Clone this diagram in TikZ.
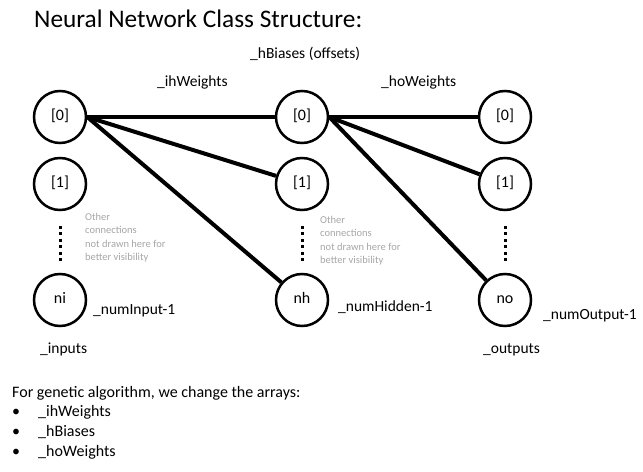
\documentclass[tikz,border=0pt]{standalone}
\usepackage{fontspec}
\setmainfont{Carlito}
\begin{document}
\begin{tikzpicture}[x=1bp,y=-1bp,
  neuron/.style={circle,draw,line width=2.5bp,minimum size=52bp,inner sep=0pt,text height=10.5bp,text depth=3bp,font=\fontsize{16bp}{19bp}\selectfont},
  conn/.style={line width=4bp},
  dotline/.style={line width=3bp,dash pattern=on 3bp off 3.5bp},
  lbl/.style={anchor=base west,inner sep=0pt,font=\fontsize{15.5bp}{18bp}\selectfont},
  txt/.style={anchor=base west,inner sep=0pt,font=\fontsize{16bp}{19bp}\selectfont},
  note/.style={anchor=north west,inner sep=0pt,align=left,text=black!35,font=\fontsize{10.5bp}{13.3bp}\selectfont}
]
\useasboundingbox (0,0) rectangle (643,472);
% neurons
\node[neuron] (i0) at (60,117) {[0]};
\node[neuron] (i1) at (60,184) {[1]};
\node[neuron] (in) at (60,300) {ni};
\node[neuron] (h0) at (302,117) {[0]};
\node[neuron] (h1) at (302,184) {[1]};
\node[neuron] (hn) at (302,300) {nh};
\node[neuron] (o0) at (505,117) {[0]};
\node[neuron] (o1) at (505,184) {[1]};
\node[neuron] (on) at (505,300) {no};
% connections
\draw[conn] (i0.east) -- (h0);
\draw[conn] (i0.east) -- (h1);
\draw[conn] (i0.east) -- (hn);
\draw[conn] (h0.east) -- (o0);
\draw[conn] (h0.east) -- (o1);
\draw[conn] (h0.east) -- (on);
% dotted
\coordinate (d1a) at (60,226); \coordinate (d1b) at (60,262);
\coordinate (d2a) at (302,226); \coordinate (d2b) at (302,262);
\coordinate (d3a) at (505,226); \coordinate (d3b) at (505,262);
\draw[dotline] (d1a) -- (d1b);
\draw[dotline] (d2a) -- (d2b);
\draw[dotline] (d3a) -- (d3b);
% texts
\node[anchor=base west,inner sep=0pt,font=\fontsize{25.3bp}{30bp}\selectfont] (title) at (34,28) {Neural Network Class Structure:};
\node[lbl] (hb) at (250,59) {\_hBiases (offsets)};
\node[lbl] (ihw) at (157,87) {\_ihWeights};
\node[lbl] (how) at (381,87) {\_hoWeights};
\node[lbl] (ni1) at (93,315) {\_numInput-1};
\node[lbl] (nh1) at (338,312) {\_numHidden-1};
\node[lbl] (no1) at (543,320) {\_numOutput-1};
\node[lbl] (inp) at (40,353) {\_inputs};
\node[lbl] (outp) at (483,353) {\_outputs};
\node[note] (n1) at (85,213) {Other\\connections\\not drawn here for\\better visibility};
\node[note] (n2) at (320,216) {Other\\connections\\not drawn here for\\better visibility};
\node[txt] (ga) at (12,397) {For genetic algorithm, we change the arrays:};
\node[txt] (b1) at (12,416) {\textbullet};
\node[txt] (t1) at (38,416) {\_ihWeights};
\node[txt] (b2) at (12,436) {\textbullet};
\node[txt] (t2) at (38,436) {\_hBiases};
\node[txt] (b3) at (12,456) {\textbullet};
\node[txt] (t3) at (38,456) {\_hoWeights};
\end{tikzpicture}
\end{document}
